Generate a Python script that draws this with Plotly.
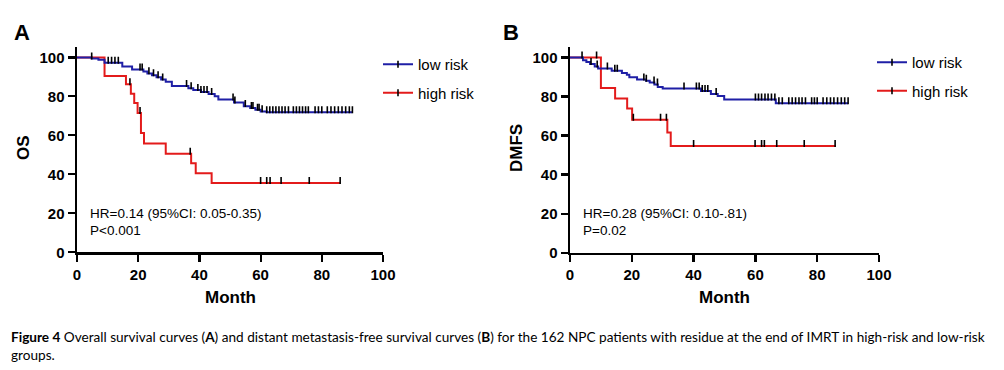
import numpy as np
import plotly.graph_objects as go

W, H = 1004, 370

# ---------------- DATA ----------------
# Panel A (OS)
os_low_t = [0, 4.8, 7, 9, 14.8, 18, 21.7, 23, 24.5, 26, 27.5, 29, 31, 36.4, 38, 40.5, 43, 45, 46.2,
            51.3, 54.5, 56.6, 58.3, 60, 62, 90]
os_low_s = [100, 99.4, 98.8, 97.3, 95.3, 93.8, 92.8, 91.8, 90.8, 89.8, 88.7, 87.5, 85.3, 84.2, 83.3,
            82.3, 81.2, 80.1, 78.4, 76.9, 75, 74, 73.1, 72.3, 71.8, 71.8]
os_low_cens = [4.8, 10.2, 11.3, 12.4, 13.5, 20.6, 21.3, 23.5, 25, 26.5, 28, 35.8, 37.3, 39.5, 40.5,
               41.5, 42.5, 44, 51, 51.6, 55, 57, 57.5, 59, 59.5, 60.5,
               62, 63, 64, 65, 66, 67, 68, 69.1, 70.7, 71.7, 72.7, 73.7, 74.7, 75.6,
               77.8, 78.9, 80, 81.8, 83, 84.2, 85.4, 86.6, 87.8, 89, 90]
os_high_t = [0, 9, 16, 17.6, 18.7, 19.8, 20.9, 21.9, 29, 37.3, 38.8, 44, 86]
os_high_s = [100, 90.4, 86.2, 81.4, 76.6, 71.5, 61.2, 55.8, 50.6, 45.7, 40.6, 35.5, 35.5]
os_high_cens = [17.3, 20.6, 37.0, 60, 62, 63.1, 66.7, 75.9, 86]

# Panel B (DMFS)
dm_low_t = [0, 4.2, 5.3, 6.5, 8, 9.1, 13.5, 16.8, 18.4, 19.2, 21.7, 24.6, 25.8, 27.3, 28.4, 30,
            42.4, 45.6, 47.8, 49.9, 66.6, 90]
dm_low_s = [100, 98.6, 97.6, 96.6, 95.4, 94.3, 93.2, 92, 91.1, 89.9, 88.7, 88, 87.2, 86.1, 84.8,
            84.1, 82.8, 81.3, 80.2, 78.5, 76.5, 76.5]
dm_low_cens = [3.9, 6.8, 8.8, 12.1, 14.5, 15.3, 23.9, 24.7, 27.2, 28.3, 36.9, 40.9, 41.8, 42.8,
               43.7, 44.6, 47.3, 60, 61, 62, 63.1, 64.1, 65.2, 66.3, 67.6, 68.7,
               70.8, 71.9, 73, 74.1, 75.1, 76.2, 78.2, 79.1, 80, 81.9, 83.1, 84.3, 85.4, 86.6,
               87.8, 88.9, 90]
dm_high_t = [0, 10, 14.6, 18.5, 20.1, 31.5, 32.6, 86]
dm_high_s = [100, 84.4, 79, 73.9, 68.1, 61.5, 54.6, 54.6]
dm_high_cens = [8.6, 20.5, 29.3, 31.2, 40, 59.9, 62, 62.9, 66.9, 75.8, 85.8]

x_ticks = [0, 20, 40, 60, 80, 100]
y_ticks = [0, 20, 40, 60, 80, 100]

BLUE = "#1f1fa6"
RED = "#e31b1b"
FONT = "Arial, Liberation Sans, sans-serif"


def step_at(t, s, x):
    t = np.asarray(t)
    s = np.asarray(s)
    idx = np.searchsorted(t, x, side="right") - 1
    return s[np.clip(idx, 0, len(s) - 1)]


def px(x):
    return x / W


def py(y):
    return 1 - y / H


fig = go.Figure()

panels = [
    ("x", "y", "legend", [(os_high_t, os_high_s, os_high_cens, RED, "high risk"),
                          (os_low_t, os_low_s, os_low_cens, BLUE, "low risk")]),
    ("x2", "y2", "legend2", [(dm_high_t, dm_high_s, dm_high_cens, RED, "high risk"),
                             (dm_low_t, dm_low_s, dm_low_cens, BLUE, "low risk")]),
]

for xa, ya, lg, groups in panels:
    for t, s, cens, col, name in groups:
        fig.add_trace(go.Scatter(x=t, y=s, mode="lines", line=dict(color=col, width=2, shape="hv"),
                                 xaxis=xa, yaxis=ya, showlegend=False, hoverinfo="skip"))
        cy = step_at(t, s, cens)
        fig.add_trace(go.Scatter(x=cens, y=cy + 1.3, mode="markers",
                                 marker=dict(symbol="line-ns", size=5, line=dict(color="black", width=1.6)),
                                 xaxis=xa, yaxis=ya, showlegend=False, hoverinfo="skip"))
    # legend entries (low first, then high)
    for t, s, cens, col, name in groups[::-1]:
        fig.add_trace(go.Scatter(x=[None], y=[None], mode="lines+markers", name=name,
                                 line=dict(color=col, width=2),
                                 marker=dict(symbol="line-ns", size=5, line=dict(color="black", width=1.6)),
                                 xaxis=xa, yaxis=ya, legend=lg, legendgroup=name + xa))

axis_common = dict(showline=True, linecolor="black", linewidth=2.5, ticks="outside", ticklen=7,
                   tickwidth=2.2, tickcolor="black", showgrid=False, zeroline=False, automargin=False,
                   tickfont=dict(family=FONT, size=15, color="black", weight="bold"),
                   fixedrange=True)

yr = [0, 105.6]
fig.update_layout(
    width=W, height=H, margin=dict(l=0, r=0, t=0, b=0, autoexpand=False),
    paper_bgcolor="white", plot_bgcolor="white",
    xaxis=dict(axis_common, domain=[px(77), px(383)], range=[0, 100], tickvals=x_ticks, anchor="y"),
    yaxis=dict(axis_common, domain=[py(252.3), py(46.5)], range=yr, tickvals=y_ticks, anchor="x"),
    xaxis2=dict(axis_common, domain=[px(570), px(879)], range=[0, 100], tickvals=x_ticks, anchor="y2"),
    yaxis2=dict(axis_common, domain=[py(252.7), py(46.5)], range=yr, tickvals=y_ticks, anchor="x2"),
    legend=dict(x=px(378), y=py(48), xanchor="left", yanchor="top", font=dict(family=FONT, size=15, color="black"),
                itemwidth=30, tracegroupgap=6, bgcolor="rgba(0,0,0,0)"),
    legend2=dict(x=px(872), y=py(46), xanchor="left", yanchor="top", font=dict(family=FONT, size=15, color="black"),
                 itemwidth=30, tracegroupgap=6, bgcolor="rgba(0,0,0,0)"),
    showlegend=True,
)

ann = []


def add_text(x, y, text, size, bold=False, xanchor="center", angle=0, family=FONT):
    ann.append(dict(x=px(x), y=py(y), xref="paper", yref="paper", text=text, showarrow=False,
                    xanchor=xanchor, yanchor="middle", textangle=angle,
                    font=dict(family=family, size=size, color="black", weight="bold" if bold else "normal")))


add_text(22, 32, "A", 22, True)
add_text(511, 32, "B", 22, True)
add_text(23, 148, "OS", 17, True, angle=-90)
add_text(516, 148, "DMFS", 17, True, angle=-90)
add_text(230, 297, "Month", 17, True)
add_text(724, 297, "Month", 17, True)
add_text(88, 213, "HR=0.14 (95%CI: 0.05-0.35)", 13.5, xanchor="left")
add_text(88, 230, "P&lt;0.001", 13.5, xanchor="left")
add_text(581, 213, "HR=0.28 (95%CI: 0.10-.81)", 13.5, xanchor="left")
add_text(581, 230, "P=0.02", 13.5, xanchor="left")

ann.append(dict(x=px(9), y=py(327), xref="paper", yref="paper", xanchor="left", yanchor="top", align="left",
                showarrow=False,
                text="<b>Figure 4</b> Overall survival curves (<b>A</b>) and distant metastasis-free survival curves "
                     "(<b>B</b>) for the 162 NPC patients with residue at the end of IMRT in high-risk and low-risk"
                     "<br>groups.",
                font=dict(family="Lato, sans-serif", size=13.6, color="black")))

fig.update_layout(annotations=ann)

fig.write_html("out.html", config={"displayModeBar": False, "staticPlot": True},
               post_script="document.body.style.margin='0';document.body.style.padding='0';"
                           "document.body.style.overflow='hidden';")
